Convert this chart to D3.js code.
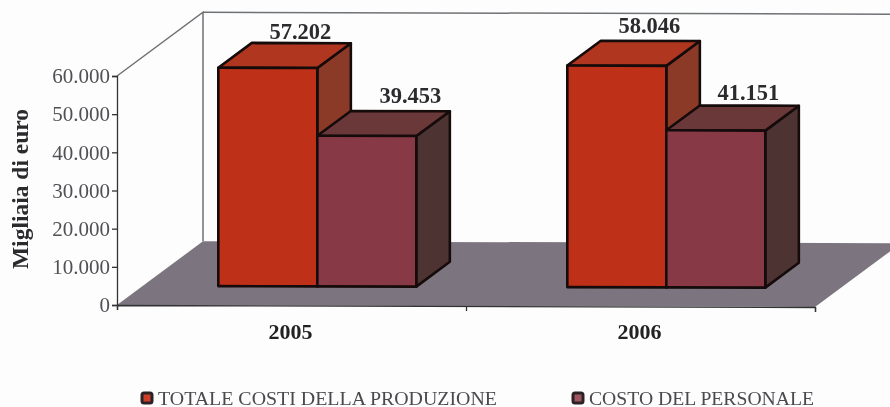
<!DOCTYPE html>
<html><head><meta charset="utf-8">
<script src="https://cdn.jsdelivr.net/npm/d3@7"></script>
<style>html,body{margin:0;padding:0;background:#fdfdfd}svg{display:block;filter:blur(.5px)}text{font-family:"Liberation Serif",serif}</style>
</head><body><svg id="c" width="890" height="407"></svg>
<script>
const categories = ["2005","2006"];
const seriesNames = ["TOTALE COSTI DELLA PRODUZIONE","COSTO DEL PERSONALE"];
const totaleCosti = [57202,58046];
const costoPersonale = [39453,41151];
const yTicks = [0,10000,20000,30000,40000,50000,60000];
const yTitle = "Migliaia di euro";

const svg = d3.select("#c");
const x0=117, x1=815, yBase=305, yTop=76;
const depthX=86, depthY=-64;
const barFrontDepth=0.30, barBackDepth=0.69;
const x = d3.scaleBand().domain(categories).range([x0,x1]);
const s = d3.scaleBand().domain([0,1]).range([0,198]);
const y = d3.scaleLinear().domain([0,60000]).range([yBase,yTop]);
const dx = d3.scaleLinear().domain([0,1]).range([0,depthX]);
const dy = d3.scaleLinear().domain([0,1]).range([0,depthY]);
const fmt = d3.formatLocale({decimal:",",thousands:".",grouping:[3],currency:["","€"]}).format(",d");
const P = (px,v,d)=>[px+dx(d),y(v)+dy(d)];
const line = d3.line();
const slope = 2/698;
const plot = svg.append("g").attr("transform",`matrix(1 ${slope} 0 1 0 ${-x0*slope})`);

// floor
plot.append("path").attr("fill","#7c7580")
  .attr("d",line([P(x0,0,0),P(x1,0,0),P(x1,0,1),P(x0,0,1)])+"Z");
// walls
const wall = plot.append("g").attr("fill","none").attr("stroke","#6f7275").attr("stroke-width",1.5);
wall.append("path").attr("d",line([P(x0,60000,0),P(x0,60000,1),P(x0,0,1)]));
wall.append("path").attr("d",line([P(x0,60000,1),P(x1+100,60000,1)]));

const colors = [
 {front:"#bf3018",top:"#b0361f",side:"#8c3a28"},
 {front:"#873a46",top:"#6b383a",side:"#4d3433"}
];
const rows = categories.flatMap((c,i)=>[0,1].map(k=>({c,k,v:[totaleCosti,costoPersonale][k][i]})));
const bars = plot.selectAll("g.bar").data(rows).join("g").attr("class","bar")
  .attr("stroke","#160b0b").attr("stroke-width",2.6).attr("stroke-linejoin","round");
const gx = d=>x(d.c)+(x.bandwidth()-198)/2;
const xa = d=>gx(d)+s(d.k), xb = d=>xa(d)+s.bandwidth();
bars.append("path").attr("fill",d=>colors[d.k].side)
  .attr("d",d=>line([P(xb(d),0,barFrontDepth),P(xb(d),0,barBackDepth),P(xb(d),d.v,barBackDepth),P(xb(d),d.v,barFrontDepth)])+"Z");
bars.append("path").attr("fill",d=>colors[d.k].top)
  .attr("d",d=>line([P(xa(d),d.v,barFrontDepth),P(xb(d),d.v,barFrontDepth),P(xb(d),d.v,barBackDepth),P(xa(d),d.v,barBackDepth)])+"Z");
bars.append("path").attr("fill",d=>colors[d.k].front)
  .attr("d",d=>line([P(xa(d),0,barFrontDepth),P(xb(d),0,barFrontDepth),P(xb(d),d.v,barFrontDepth),P(xa(d),d.v,barFrontDepth)])+"Z");

// value labels (the reference nudges each label by hand)
const nudgeX = [-1,10,-1,-1], nudgeY = [0,-3,-2,0];
svg.selectAll("text.val").data(rows).join("text").attr("class","val")
  .attr("text-anchor","middle").attr("font-weight","bold").attr("font-size",22.5).attr("fill","#2b2b2e")
  .attr("x",(d,i)=>(P(xa(d),d.v,barBackDepth)[0]+P(xb(d),d.v,barBackDepth)[0])/2+nudgeX[i])
  .attr("y",(d,i)=>P(xa(d),d.v,barBackDepth)[1]-4+nudgeY[i])
  .text(d=>fmt(d.v));

// y axis
const ay = svg.append("g").attr("transform",`translate(${x0},0)`)
  .call(d3.axisLeft(y).tickValues(yTicks).tickFormat(fmt).tickSize(5).tickPadding(2));
ay.selectAll("path,line").attr("stroke","#333").attr("stroke-width",1.3);
ay.selectAll("text").attr("font-size",21).attr("fill","#505055").style("font-family",'"Liberation Serif",serif');

// x axis
const ax = plot.append("g").attr("transform",`translate(0,${yBase})`)
  .call(d3.axisBottom(d3.scaleLinear().domain([0,2]).range([x0,x1])).tickValues([0,1,2]).tickFormat("").tickSize(5));
ax.selectAll("path,line").attr("stroke","#333").attr("stroke-width",1.3);
svg.selectAll("text.cat").data(categories).join("text").attr("class","cat")
  .attr("text-anchor","middle").attr("font-weight","bold").attr("font-size",22).attr("fill","#222")
  .attr("x",c=>x(c)+x.bandwidth()/2-1).attr("y",339).text(c=>c);

// axis title
svg.append("text").attr("transform","translate(28,189) rotate(-90)").attr("text-anchor","middle")
  .attr("font-weight","bold").attr("font-size",23.5).attr("fill","#2b2b2e").text(yTitle);

// legend
const legendX = d3.scaleOrdinal().domain([0,1]).range([142,573]);
const legendW = [339,225];
const lg = svg.selectAll("g.lg").data(seriesNames).join("g").attr("class","lg")
  .attr("transform",(d,i)=>`translate(${legendX(i)},393)`);
lg.append("rect").attr("width",10).attr("height",10).attr("rx",2).attr("stroke","#2a2225").attr("stroke-width",3)
  .attr("fill",(d,i)=>i===0?"#cf3c28":"#a05560");
lg.append("text").attr("x",16).attr("y",11.5).attr("font-size",18).attr("fill","#4a4a4e")
  .attr("textLength",(d,i)=>legendW[i]).attr("lengthAdjust","spacingAndGlyphs").text(d=>d);
</script></body></html>
